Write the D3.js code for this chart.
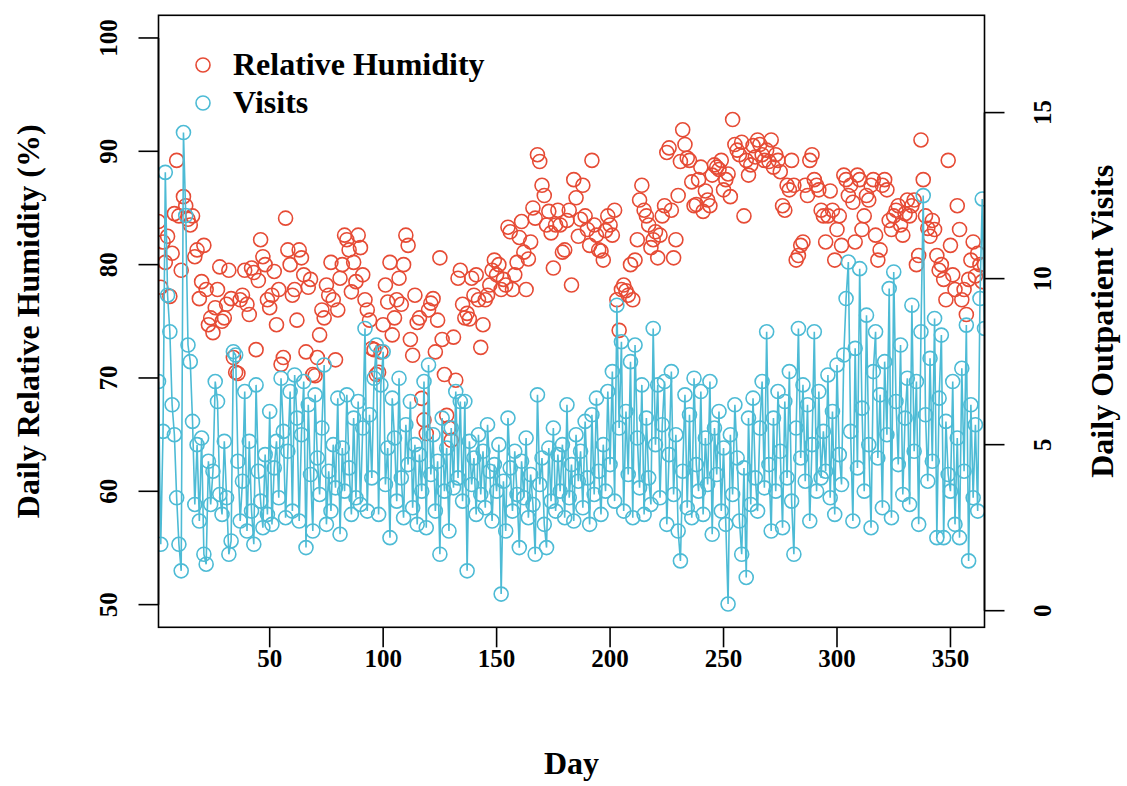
<!DOCTYPE html>
<html>
<head>
<meta charset="utf-8">
<script src="https://cdn.jsdelivr.net/npm/d3@7"></script>
<style>
  html, body { margin: 0; padding: 0; background: #fff; }
  svg text { font-family: "Liberation Serif", "Times New Roman", serif; font-weight: bold; fill: #000; }
</style>
</head>
<body>
<svg id="chart" width="1127" height="786"></svg>
<script>
// Daily relative humidity (%), days 1..365
const humidity = [
  83.8, 78, 82, 80.2, 82.5, 77.2, 81, 84.5, 89.2, 84.3, 79.5,
  86, 85.2, 84, 83.5, 84.3, 80.7, 81.3, 77, 78.5, 81.7, 77.8,
  74.7, 75.3, 74, 76.2, 77.8, 79.8, 75, 75.3, 76.5, 79.5, 77,
  71.8, 70.5, 70.4, 76.9, 77.3, 79.5, 76.5, 75.6, 79.7, 79.3, 72.5,
  78.6, 82.2, 80.7, 80, 76.9, 76.2, 77.3, 79.4, 74.7, 77.8, 71.2,
  71.8, 84.1, 81.3, 80, 77.3, 77.8, 75.1, 81.3, 80.6, 79.1, 72.3,
  78, 78.7, 70.3, 70.2, 71.8, 73.8, 76, 75.3, 78.2, 77.3, 80.2,
  76.9, 71.6, 76, 78.8, 80, 82.6, 82.2, 81.3, 77.6, 80.2, 78.5,
  82.6, 81.5, 79.1, 76.9, 76, 75.1, 72.6, 72.5, 70.3, 70.5, 72.3,
  74.7, 78.2, 76.7, 80.2, 73.8, 75.3, 76.9, 78.8, 76.5, 80, 82.6,
  81.7, 73.4, 72, 77.3, 74.9, 75.3, 68.2, 66.3, 65.1, 76, 76.6,
  77, 72.3, 75.1, 80.6, 73.4, 70.3, 66.7, 65.6, 64.5, 73.6, 69.8,
  78.8, 79.5, 76.5, 75.3, 75.7, 75.2, 78.8, 77.3, 79.1, 76.9, 72.7,
  74.7, 76.9, 77.3, 78.2, 79.5, 80.4, 79.1, 80, 77.8, 78.7, 78.2,
  83.3, 82.9, 77.8, 79.1, 80.2, 82.4, 83.8, 81.1, 77.8, 80.5, 82,
  85, 84.1, 89.7, 89.1, 87, 86.1, 83.5, 84.7, 82.8, 79.7, 83.5,
  84.8, 83.5, 81.1, 81.3, 83.9, 84.8, 78.2, 87.5, 85.9, 82.5, 84,
  87, 84.3, 83.1, 81.7, 89.2, 83.5, 82.6, 81.3, 81.2, 80.4, 83,
  84.3, 83.5, 82.6, 84.8, 76.9, 74.2, 77.8, 78.2, 77.7, 77.3, 80,
  76.9, 80.4, 82.2, 85.7, 87, 84.8, 84.3, 83.5, 81.5, 82.2, 82.9,
  80.6, 82.6, 84.3, 85.2, 89.9, 90.3, 84.8, 80.6, 82.2, 86.1, 89.1,
  91.9, 90.6, 89.4, 89.2, 87.3, 85.2, 85.3, 87.5, 88.6, 84.7, 86.5,
  85.7, 85.2, 87.9, 88.8, 88.6, 88.4, 89.2, 86.6, 87.5, 88, 86,
  92.8, 90.6, 90.1, 89.7, 90.8, 84.3, 89.2, 87.9, 88.8, 90.5, 89.5,
  91, 90.6, 89.7, 89.2, 90.1, 89.1, 91, 88.6, 89.7, 89.2, 88.2,
  85.2, 84.8, 87, 86.6, 89.2, 87, 80.4, 80.8, 81.7, 82, 87,
  86.1, 89.2, 89.7, 87.5, 87, 86.6, 84.8, 84.3, 82, 84.3, 86.5,
  84.8, 80.4, 83.1, 84.3, 81.7, 87.9, 87.5, 86.1, 87, 85.5, 82,
  87.9, 87.5, 83.1, 84.3, 86.1, 85.7, 87, 87.5, 82.6, 80.4, 81.3,
  87, 87.5, 86.6, 83.9, 83.1, 84.3, 84.8, 85.2, 83.5, 82.6, 84.5,
  85.7, 84.3, 85.2, 85.7, 80, 80.8, 91, 87.5, 84.3, 83.2, 82.5,
  83.9, 83.1, 80.8, 79.5, 80, 78.7, 76.9, 89.2, 81.7, 79.1, 77.8,
  85.2, 83.1, 76.9, 77.8, 75.6, 78.7, 80.4, 82, 79, 81, 80,
  78.5, 80
];

// Daily outpatient visits, days 1..365
const visits = [
  6.9, 2.0, 5.4, 13.2, 9.5, 8.4, 6.2, 5.3, 3.4, 2.0, 1.2,
  14.4, 11.9, 8.0, 7.5, 5.7, 3.2, 5.0, 2.7, 5.2, 1.7, 1.4,
  4.5, 3.2, 4.2, 6.9, 6.3, 3.5, 2.9, 5.1, 3.4, 1.7, 2.1,
  7.8, 7.7, 4.5, 2.7, 3.9, 6.6, 2.4, 5.1, 3.0, 2.0, 6.8,
  4.2, 3.3, 2.5, 4.7, 2.9, 6.0, 2.6, 4.3, 5.1, 3.4, 7.0,
  5.4, 2.8, 4.8, 6.6, 3.0, 7.1, 5.8, 2.7, 5.3, 6.9, 1.9,
  6.2, 4.1, 2.4, 6.5, 4.6, 3.5, 5.5, 7.4, 2.6, 4.2, 3.0,
  5.0, 3.7, 6.4, 2.3, 4.9, 3.6, 6.5, 4.3, 2.9, 5.8, 3.4,
  6.3, 3.2, 5.5, 8.5, 3.0, 5.9, 4.0, 7.0, 8.0, 2.9, 6.8,
  7.8, 3.8, 4.9, 2.2, 6.4, 5.2, 3.3, 7.0, 4.0, 2.8, 5.6,
  4.4, 6.3, 3.1, 5.0, 2.6, 4.7, 3.6, 6.9, 2.5, 7.4, 4.1,
  5.3, 3.0, 4.5, 1.7, 5.8, 3.6, 4.9, 2.4, 5.5, 3.7, 6.6,
  4.0, 6.3, 3.3, 6.3, 1.2, 5.1, 3.8, 4.6, 2.9, 5.3, 3.5,
  4.8, 3.1, 5.6, 4.2, 2.7, 4.4, 3.6, 5.0, 0.5, 3.9, 2.4,
  5.8, 4.3, 3.0, 4.8, 3.5, 1.9, 4.5, 3.4, 5.2, 2.8, 4.1,
  3.2, 1.7, 6.5, 3.8, 4.6, 2.6, 1.9, 4.9, 3.3, 5.5, 3.0,
  4.7, 3.6, 5.0, 2.8, 6.2, 3.4, 4.4, 2.7, 5.3, 3.9, 4.8,
  3.1, 5.7, 4.0, 2.6, 5.9, 3.5, 6.4, 4.2, 2.9, 5.0, 3.6,
  6.6, 4.4, 7.2, 3.3, 9.2, 5.5, 8.1, 3.0, 6.0, 4.1, 7.5,
  2.8, 8.0, 5.2, 3.7, 6.8, 2.9, 5.8, 4.0, 3.2, 8.5, 5.0,
  6.8, 3.4, 5.6, 6.9, 2.6, 4.7, 7.2, 3.5, 5.3, 2.4, 1.5,
  4.2, 6.5, 3.1, 5.9, 2.8, 7.0, 4.4, 3.6, 6.6, 2.9, 5.2,
  3.8, 6.9, 2.3, 5.5, 4.1, 6.0, 3.0, 4.9, 2.6, 0.2, 5.3,
  3.5, 6.2, 4.6, 2.7, 1.7, 4.3, 1.0, 5.8, 3.2, 6.4, 4.0,
  3.0, 5.5, 6.9, 3.7, 8.4, 4.4, 2.4, 5.8, 3.6, 6.6, 4.8,
  2.5, 6.3, 4.0, 7.2, 3.3, 1.7, 5.5, 8.5, 4.6, 6.8, 3.9,
  6.2, 2.7, 5.0, 8.4, 3.6, 6.6, 4.0, 5.4, 4.2, 7.1, 3.4,
  6.0, 2.9, 7.4, 4.7, 3.8, 7.7, 9.4, 10.5, 5.4, 2.7, 7.9,
  4.3, 10.3, 6.1, 3.6, 8.9, 5.0, 2.5, 7.2, 8.4, 4.6, 6.5,
  3.1, 7.5, 5.3, 9.7, 2.8, 10.2, 6.3, 4.4, 8.0, 3.5, 5.8,
  7.0, 3.2, 9.2, 4.8, 6.9, 2.6, 8.4, 12.5, 5.9, 3.9, 7.6,
  4.5, 8.8, 2.2, 6.4, 8.3, 2.2, 5.7, 4.1, 3.6, 6.9, 2.6,
  5.2, 2.2, 7.3, 4.2, 8.6, 1.5, 6.2, 3.4, 5.6, 3.0, 9.4,
  12.4, 8.5
];

const days = d3.range(1, humidity.length + 1);

const humidityTicks = [50, 60, 70, 80, 90, 100];
const visitTicks = [0, 5, 10, 15];
const dayTicks = [50, 100, 150, 200, 250, 300, 350];

const legendItems = [
  { label: "Relative Humidity", color: "#E64B35" },
  { label: "Visits", color: "#4DBBD5" }
];

const RED = "#E64B35", BLUE = "#4DBBD5";
const plot = { left: 158.5, right: 984.5, top: 15.3, bottom: 627.3 };

const svg = d3.select("#chart");

const x = d3.scaleLinear().domain([1, 365]).range([plot.left, plot.right]);
const yL = d3.scaleLinear().domain([48, 102]).range([plot.bottom, plot.top]);
const yR = d3.scaleLinear().domain([-0.5, 17.93]).range([plot.bottom, plot.top]);

svg.append("defs").append("clipPath").attr("id", "plotclip")
  .append("rect")
  .attr("x", plot.left).attr("y", plot.top)
  .attr("width", plot.right - plot.left).attr("height", plot.bottom - plot.top);

const g = svg.append("g").attr("clip-path", "url(#plotclip)");

// humidity: open circles
g.append("g").selectAll("circle")
  .data(days)
  .join("circle")
  .attr("cx", d => x(d))
  .attr("cy", d => yL(humidity[d - 1]))
  .attr("r", 7)
  .attr("fill", "none")
  .attr("stroke", RED)
  .attr("stroke-width", 1.6);

// visits: line with open circles
const line = d3.line().x(d => x(d)).y(d => yR(visits[d - 1]));
g.append("path")
  .attr("d", line(days))
  .attr("fill", "none")
  .attr("stroke", BLUE)
  .attr("stroke-width", 1.6);

g.append("g").selectAll("circle")
  .data(days)
  .join("circle")
  .attr("cx", d => x(d))
  .attr("cy", d => yR(visits[d - 1]))
  .attr("r", 7)
  .attr("fill", "none")
  .attr("stroke", BLUE)
  .attr("stroke-width", 1.6);

// frame
svg.append("rect")
  .attr("x", plot.left).attr("y", plot.top)
  .attr("width", plot.right - plot.left).attr("height", plot.bottom - plot.top)
  .attr("fill", "none").attr("stroke", "#000").attr("stroke-width", 1.6);

const tickLen = 20, tickFont = 25, titleFont = 32;

// bottom axis
const xAxis = svg.append("g");
xAxis.selectAll("line").data(dayTicks).join("line")
  .attr("x1", d => x(d)).attr("x2", d => x(d))
  .attr("y1", plot.bottom).attr("y2", plot.bottom + tickLen)
  .attr("stroke", "#000").attr("stroke-width", 1.6);
xAxis.selectAll("text").data(dayTicks).join("text")
  .attr("x", d => x(d)).attr("y", 667)
  .attr("text-anchor", "middle")
  .style("font-size", tickFont + "px")
  .text(d => d);

// left axis
const lAxis = svg.append("g");
lAxis.append("line")
  .attr("x1", plot.left).attr("x2", plot.left)
  .attr("y1", yL(50)).attr("y2", yL(100))
  .attr("stroke", "#000").attr("stroke-width", 1.6);
lAxis.selectAll(".tk").data(humidityTicks).join("line")
  .attr("x1", plot.left - tickLen).attr("x2", plot.left)
  .attr("y1", d => yL(d)).attr("y2", d => yL(d))
  .attr("stroke", "#000").attr("stroke-width", 1.6);
lAxis.selectAll("text").data(humidityTicks).join("text")
  .attr("transform", d => `translate(117,${yL(d)}) rotate(-90)`)
  .attr("text-anchor", "middle")
  .style("font-size", tickFont + "px")
  .text(d => d);

// right axis
const rAxis = svg.append("g");
rAxis.append("line")
  .attr("x1", plot.right).attr("x2", plot.right)
  .attr("y1", yR(0)).attr("y2", yR(15))
  .attr("stroke", "#000").attr("stroke-width", 1.6);
rAxis.selectAll(".tk").data(visitTicks).join("line")
  .attr("x1", plot.right).attr("x2", plot.right + tickLen)
  .attr("y1", d => yR(d)).attr("y2", d => yR(d))
  .attr("stroke", "#000").attr("stroke-width", 1.6);
rAxis.selectAll("text").data(visitTicks).join("text")
  .attr("transform", d => `translate(1051,${yR(d)}) rotate(-90)`)
  .attr("text-anchor", "middle")
  .style("font-size", tickFont + "px")
  .text(d => d);

// axis titles
svg.append("text")
  .attr("x", (plot.left + plot.right) / 2).attr("y", 774)
  .attr("text-anchor", "middle")
  .style("font-size", titleFont + "px")
  .text("Day");
svg.append("text")
  .attr("transform", `translate(39,${(plot.top + plot.bottom) / 2}) rotate(-90)`)
  .attr("text-anchor", "middle")
  .style("font-size", titleFont + "px")
  .text("Daily Relative Humidity (%)");
svg.append("text")
  .attr("transform", `translate(1113,${(plot.top + plot.bottom) / 2}) rotate(-90)`)
  .attr("text-anchor", "middle")
  .style("font-size", titleFont + "px")
  .text("Daily Outpatient Visits");

// legend
const leg = svg.append("g");
legendItems.forEach((item, i) => {
  const cy = 65 + i * 38;
  leg.append("circle")
    .attr("cx", 203).attr("cy", cy).attr("r", 7)
    .attr("fill", "none").attr("stroke", item.color).attr("stroke-width", 1.6);
  leg.append("text")
    .attr("x", 233).attr("y", cy + 10)
    .style("font-size", titleFont + "px")
    .text(item.label);
});
</script>
</body>
</html>
